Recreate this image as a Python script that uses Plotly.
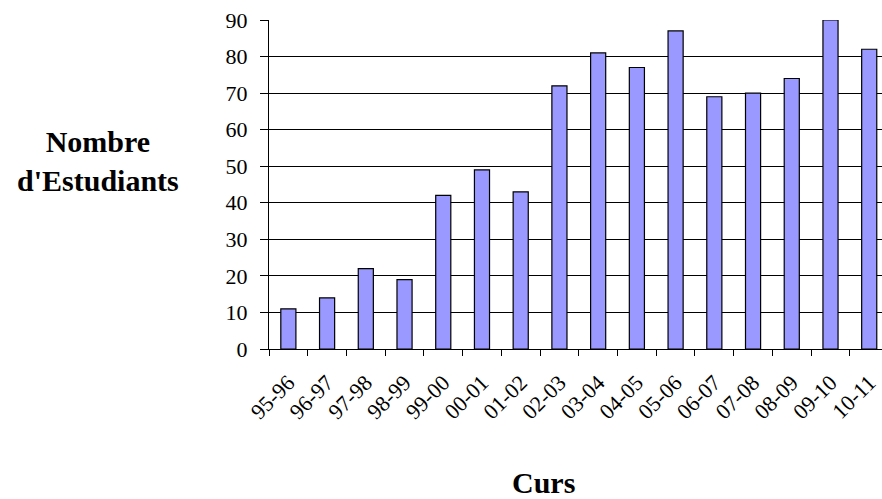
import plotly.graph_objects as go

categories = ["95-96", "96-97", "97-98", "98-99", "99-00", "00-01", "01-02", "02-03",
              "03-04", "04-05", "05-06", "06-07", "07-08", "08-09", "09-10", "10-11"]
students = [11, 14, 22, 19, 42, 49, 43, 72, 81, 77, 87, 69, 70, 74, 90, 82]
y_ticks = [0, 10, 20, 30, 40, 50, 60, 70, 80, 90]

font_family = "Liberation Serif, Times New Roman, serif"

fig = go.Figure(go.Bar(
    x=categories, y=students,
    marker=dict(color="#9999FF", line=dict(color="black", width=1.2)),
    width=0.39,
))

fig.update_layout(
    width=882, height=499,
    margin=dict(l=269, r=0, t=20, b=150),
    plot_bgcolor="white", paper_bgcolor="white",
    font=dict(family=font_family, size=22, color="black"),
    showlegend=False,
    xaxis=dict(
        type="category", range=[-0.5, 15.33],
        tickangle=-45, tickson="boundaries",
        ticks="outside", ticklen=6, tickcolor="black", tickwidth=1,
        showline=True, linecolor="black", linewidth=1,
        showgrid=False, ticklabelstandoff=11,
        tickfont=dict(size=22, family=font_family),
    ),
    yaxis=dict(
        range=[0, 90], tickvals=y_ticks,
        ticks="outside", ticklen=8, tickcolor="black", tickwidth=1,
        showline=True, linecolor="black", linewidth=1,
        showgrid=True, gridcolor="black", gridwidth=1,
        zeroline=False, ticklabelstandoff=8,
        tickfont=dict(size=22, family=font_family),
    ),
    annotations=[
        dict(text="<b>Nombre<br>d'Estudiants</b>", xref="paper", yref="paper",
             x=-0.279, y=0.571, xanchor="center", yanchor="middle", showarrow=False,
             font=dict(size=30, family=font_family), align="center"),
        dict(text="<b>Curs</b>", xref="paper", yref="paper",
             x=0.447, y=-0.405, xanchor="center", yanchor="middle", showarrow=False,
             font=dict(size=30, family=font_family)),
    ],
)

fig.write_html("out.html", config={"displayModeBar": False},
               post_script="document.body.style.margin='0';")
